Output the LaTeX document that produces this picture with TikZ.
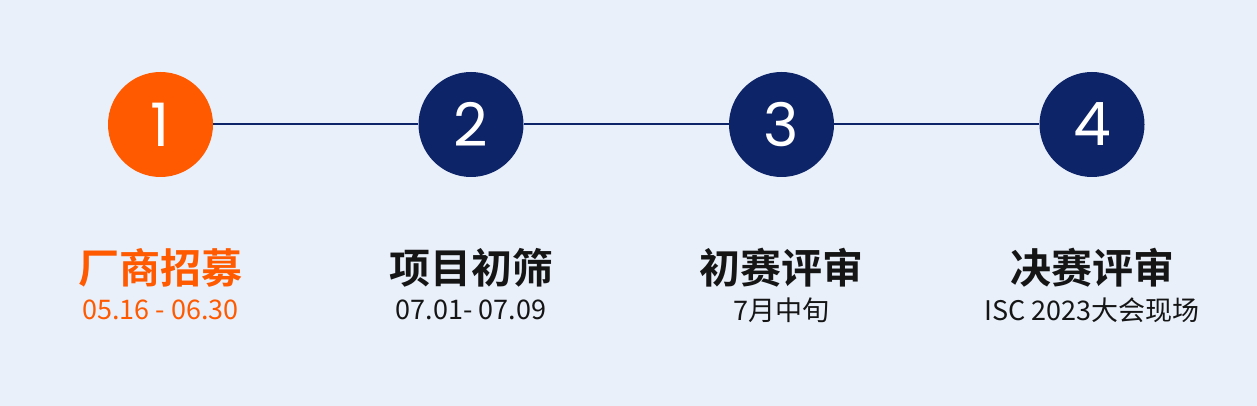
\documentclass[tikz,border=0pt]{standalone}
\usepackage{fontspec}
\setmainfont{Noto Sans CJK SC}
\newfontfamily\cjkb{Noto Sans CJK SC Bold}
\newfontfamily\numf{Poppins}
\definecolor{bg}{HTML}{E9F0FA}
\definecolor{navy}{HTML}{0E2469}
\definecolor{orng}{HTML}{FF5A00}
\definecolor{txt}{HTML}{151515}
\begin{document}
\begin{tikzpicture}[x=1pt,y=-1pt,
  stepcircle/.style={circle,minimum size=105pt,inner sep=0pt,fill=navy,text=white,font=\numf\fontsize{60}{60}\selectfont},
  titletext/.style={font=\cjkb\fontsize{41}{41}\selectfont,text=txt,inner sep=0pt},
  subtext/.style={font=\fontsize{27}{27}\selectfont,text=txt,inner sep=0pt}]
\fill[bg] (0,0) rectangle (1257,406);
\useasboundingbox (0,0) rectangle (1257,406);
\node[stepcircle,fill=orng] (c1) at (160.5,124.5) {1};
\node[stepcircle] (c2) at (471,124.5) {2};
\node[stepcircle] (c3) at (781.5,124.5) {3};
\node[stepcircle] (c4) at (1092,124.5) {4};
\draw[navy,line width=2pt] (c1.east) -- (c2.west);
\draw[navy,line width=2pt] (c2.east) -- (c3.west);
\draw[navy,line width=2pt] (c3.east) -- (c4.west);
\node[titletext,text=orng] (t1) at (160.5,268) {厂商招募};
\node[titletext] (t2) at (471,268) {项目初筛};
\node[titletext] (t3) at (781.5,268) {初赛评审};
\node[titletext] (t4) at (1092,268) {决赛评审};
\node[subtext,text=orng] (s1) at (160.5,310) {05.16 - 06.30};
\node[subtext] (s2) at (471,310) {07.01- 07.09};
\node[subtext] (s3) at (781.5,310) {7月中旬};
\node[subtext] (s4) at (1092,310) {ISC 2023大会现场};
\end{tikzpicture}
\end{document}
